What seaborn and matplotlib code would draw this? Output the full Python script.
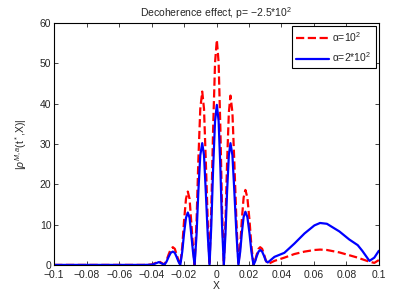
import pandas as pd
import seaborn as sns
import matplotlib.pyplot as plt

sns.set_style("ticks")
plt.rcParams['font.family'] = ['Liberation Sans', 'DejaVu Sans']
plt.rcParams['mathtext.fontset'] = 'custom'
plt.rcParams['mathtext.rm'] = 'Liberation Sans'
plt.rcParams['mathtext.it'] = 'Liberation Sans:italic'

# values
x = [-0.1, -0.08, -0.06, -0.045, -0.04, -0.038, -0.0355, -0.033, -0.032, -0.0308, -0.0295, -0.0282, -0.0269,
     -0.0257, -0.0246, -0.0234, -0.0223,
     -0.0211, -0.0200, -0.0188, -0.0177,
     -0.0166, -0.0156, -0.0145, -0.0135,
     -0.0123, -0.0112, -0.0100, -0.0088,
     -0.0077, -0.0066, -0.0054, -0.0043,
     -0.0032, -0.0021, -0.0009, 0.0002,
     0.0013, 0.0024, 0.0034, 0.0045,
     0.0055, 0.0065, 0.0076, 0.0086,
     0.0098, 0.0110, 0.0123, 0.0135,
     0.0146, 0.0156, 0.0167, 0.0178,
     0.0190, 0.0203, 0.0215, 0.0228,
     0.0238, 0.0248, 0.0259, 0.0269,
     0.0281, 0.0293, 0.0304, 0.0316,
     0.0357, 0.0418, 0.048, 0.0542, 0.0603, 0.0638, 0.068, 0.0757, 0.0818, 0.087, 0.0898, 0.0942, 0.0972, 0.1]

rho_a1 = [0, 0, 0, 0, 0.1, 0.4, 0.9, 0.3, 0.2, 1.1, 2.6, 3.9, 4.4,
          4.0, 2.6, 1.1, 0,
          4.6, 10.9, 16.4, 18.2,
          16.4, 10.9, 4.6, 0,
          10.8, 25.8, 38.7, 43.0,
          38.7, 25.8, 10.8, 0,
          14.0, 33.5, 50.2, 55.8,
          50.2, 33.5, 14.0, 0,
          10.5, 25.2, 37.8, 42.0,
          37.8, 25.2, 10.5, 0,
          4.7, 11.2, 16.7, 18.6,
          16.7, 11.2, 4.7, 0,
          1.1, 2.6, 4.0, 4.4,
          4.0, 2.6, 1.1, 0.2,
          1.0, 1.8, 2.7, 3.3, 3.7, 3.8, 3.7, 3.1, 2.4, 1.8, 1.4, 0.8, 0.5, 1.2]

rho_a2 = [0, 0, 0, 0, 0.05, 0.3, 0.7, 0.2, 0.1, 0.8, 2.0, 3.0, 3.3,
          3.0, 2.0, 0.8, 0,
          3.3, 7.8, 11.7, 13.0,
          11.7, 7.8, 3.3, 0,
          7.5, 18.1, 27.2, 30.2,
          27.2, 18.1, 7.5, 0,
          9.9, 23.8, 35.7, 39.7,
          35.7, 23.8, 9.9, 0,
          7.5, 18.1, 27.2, 30.2,
          27.2, 18.1, 7.5, 0,
          3.3, 7.9, 11.9, 13.2,
          11.9, 7.9, 3.3, 0,
          0.9, 2.2, 3.3, 3.7,
          3.3, 2.2, 1.0, 0.6,
          2.0, 3.0, 5.3, 7.8, 9.8, 10.4, 10.2, 8.3, 6.3, 4.9, 3.5, 1.0, 1.8, 3.5]

labels = ['\u03b1=10$^2$', '\u03b1=2*10$^2$']
xticks = [-0.1, -0.08, -0.06, -0.04, -0.02, 0, 0.02, 0.04, 0.06, 0.08, 0.1]
xticklabels = ['\u22120.1', '\u22120.08', '\u22120.06', '\u22120.04', '\u22120.02', '0',
               '0.02', '0.04', '0.06', '0.08', '0.1']
yticks = [0, 10, 20, 30, 40, 50, 60]

df = pd.DataFrame({'X': x, 'a1': rho_a1, 'a2': rho_a2})

fig = plt.figure(figsize=(4.2, 2.99), dpi=100)
ax = fig.add_axes([0.129, 0.114, 0.773, 0.809])

sns.lineplot(data=df, x='X', y='a1', ax=ax, color='red', linestyle='--',
             linewidth=1.6, label=labels[0], sort=False)
sns.lineplot(data=df, x='X', y='a2', ax=ax, color='blue',
             linewidth=1.6, label=labels[1], sort=False)

ax.set_xlim(-0.1, 0.1)
ax.set_ylim(0, 60)
ax.set_xticks(xticks)
ax.set_xticklabels(xticklabels)
ax.set_yticks(yticks)
ax.tick_params(direction='in', top=True, right=True, labelsize=7.5, length=3, width=0.6)
ax.tick_params(axis='x', pad=3.5)
ax.tick_params(axis='y', pad=2)
for s in ax.spines.values():
    s.set_linewidth(0.8)
    s.set_color('black')

ax.set_xlabel('X', fontsize=7.5, labelpad=1)
ax.set_ylabel(r'|$\rho^{M,a}$(t$^*$,X)|', fontsize=7.5, labelpad=8)
ax.set_title(r'Decoherence effect, p= $-$2.5*10$^2$', fontsize=7.5, pad=4)

leg = ax.legend(loc='upper right', fontsize=7.5, frameon=True, fancybox=False,
                framealpha=1, edgecolor='black', handlelength=3.2,
                borderaxespad=0.3, labelspacing=0.6, handletextpad=0.3)
leg.get_frame().set_linewidth(0.8)

plt.savefig('out.png', dpi=100)
